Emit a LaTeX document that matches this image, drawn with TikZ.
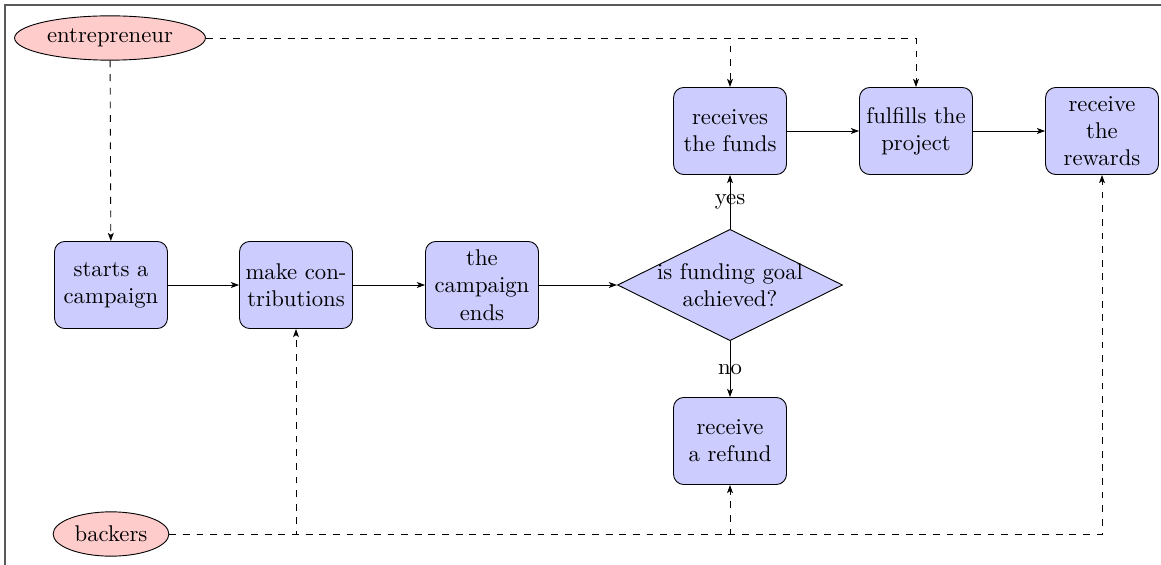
\documentclass[tikz,border=0pt]{standalone}
\usetikzlibrary{shapes.geometric,arrows.meta}
\begin{document}
\begin{tikzpicture}[x=0.44pt,y=-0.44pt,
  >={Stealth[length=3.6pt,width=2.6pt,inset=0.9pt]},
  stepbox/.style={rectangle,draw,fill=blue!20,rounded corners=4.5pt,
    minimum width=49.7pt,minimum height=38.3pt,inner sep=2pt,align=center},
  decision/.style={diamond,draw,fill=blue!20,aspect=2,inner sep=-1.5pt,
    minimum width=99pt,minimum height=49pt,align=center},
  actor/.style={ellipse,draw,fill=red!20,inner sep=2pt,minimum height=19.5pt},
  flow/.style={draw,->},
  feed/.style={draw,dashed,->}]
\useasboundingbox (0,0) rectangle (1161,565);
% outer frame (top and left edges)
\draw[black!65,line width=0.6pt] (5,565) -- (5,5) -- (1161,5);

% actors
\node[actor] (entrepreneur) at (110,38) {entrepreneur};
\node[actor] (backers) at (111,534) {backers};

% process steps
\node[stepbox] (start) at (111,285) {starts a\\campaign};
\node[stepbox] (contrib) at (296,285) {make con-\\tributions};
\node[stepbox] (ends) at (482,285) {the\\campaign\\ends};
\node[decision] (goal) at (730,285) {is funding goal\\achieved?};
\node[stepbox] (funds) at (730,131) {receives\\the funds};
\node[stepbox] (fulfil) at (916,131) {fulfills the\\project};
\node[stepbox] (rewards) at (1102,131) {receive\\the\\rewards};
\node[stepbox] (refund) at (730,441) {receive\\a refund};

% main flow
\path[flow] (start) -- (contrib);
\path[flow] (contrib) -- (ends);
\path[flow] (ends) -- (goal);
\path[flow] (goal) -- node[inner sep=0pt] (yes) {yes} (funds);
\path[flow] (goal) -- node[inner sep=0pt] (no) {no} (refund);
\path[flow] (funds) -- (fulfil);
\path[flow] (fulfil) -- (rewards);

% entrepreneur involvement
\path[feed] (entrepreneur) -- (start);
\path[feed] (entrepreneur.east) -| (fulfil.north);
\path[feed] (entrepreneur.east) -| (funds.north);

% backers involvement
\path[feed] (backers.east) -| (rewards.south);
\path[feed] (backers.east) -| (contrib.south);
\path[feed] (backers.east) -| (refund.south);
\end{tikzpicture}
\end{document}
